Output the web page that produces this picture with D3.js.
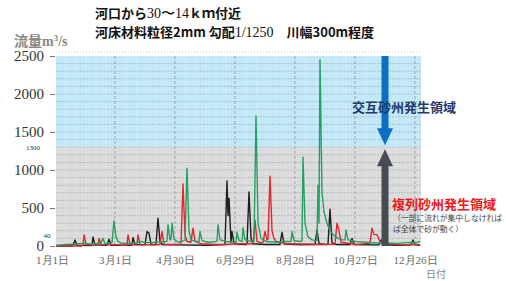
<!DOCTYPE html>
<html><head><meta charset="utf-8">
<script src="https://cdn.jsdelivr.net/npm/d3@7"></script>
<style>
html,body{margin:0;padding:0;background:#fff;}
svg{display:block;}
</style></head>
<body>
<svg id="c" width="506" height="281"></svg>
<script>
// ---- data (day of year, flow m3/s) ----
const yTicks = [0, 500, 1000, 1500, 2000, 2500];
const xTickDays = [0, 59, 119, 179, 239, 299, 359];
const xTickLabels = ["1月1日", "3月1日", "4月30日", "6月29日", "8月28日", "10月27日", "12月26日"];
const threshold = 1300;
const lowMark = 40;

const greenSeries = [[0,10],[5,15],[10,20],[15,25],[18,20],[22,30],[30,35],[35,25],[40,30],[45,40],[47,100],[49,30],[55,40],[56,45],[58,330],[60,120],[62,60],[65,40],[70,35],[80,40],[85,60],[90,45],[100,50],[110,60],[111,65],[112,280],[114,80],[115,90],[116,300],[118,90],[122,50],[128,70],[129,75],[131,1025],[133,200],[135,80],[140,60],[143,60],[144,190],[146,70],[152,50],[160,60],[161,65],[162,280],[164,80],[170,60],[180,50],[181,180],[183,70],[186,60],[187,240],[189,80],[195,60],[198,60],[200,1710],[202,300],[205,100],[210,60],[220,50],[230,60],[235,60],[236,190],[238,70],[245,60],[246,70],[247,1170],[249,300],[252,120],[256,80],[260,70],[261,80],[262,800],[263,300],[264,2450],[266,700],[268,450],[271,300],[274,200],[278,140],[282,100],[286,80],[289,80],[290,210],[292,80],[300,60],[310,50],[320,40],[330,40],[340,35],[350,45],[357,50],[360,40],[364,60]];

const redSeries = [[0,0],[25,0],[27,10],[28,145],[30,20],[40,10],[42,15],[43,100],[45,20],[60,15],[70,10],[71,15],[72,145],[74,20],[80,15],[81,20],[82,145],[84,20],[95,15],[104,20],[106,190],[108,20],[115,20],[125,25],[127,815],[129,150],[131,60],[135,50],[137,235],[139,60],[145,30],[160,20],[170,20],[180,30],[197,30],[199,340],[201,60],[205,40],[207,50],[209,190],[211,80],[212,90],[214,920],[216,200],[218,100],[220,60],[230,30],[250,25],[265,20],[279,25],[281,300],[283,200],[285,50],[300,20],[313,35],[314,40],[316,235],[318,150],[321,150],[324,60],[328,40],[340,20],[364,15]];

const blackSeries = [[0,0],[15,0],[17,10],[19,80],[21,10],[35,5],[36,10],[37,120],[39,15],[51,10],[53,90],[55,10],[75,10],[76,15],[77,110],[79,20],[89,15],[91,190],[93,170],[95,20],[100,20],[102,365],[104,60],[106,20],[120,15],[150,10],[169,20],[171,855],[172,400],[173,630],[175,50],[176,190],[178,30],[190,20],[191,30],[193,710],[195,100],[197,30],[210,20],[224,20],[226,180],[228,30],[240,20],[259,20],[261,210],[263,30],[270,20],[272,25],[274,485],[276,40],[280,20],[294,20],[296,100],[298,20],[320,15],[323,15],[325,80],[327,20],[340,10],[355,15],[357,80],[359,20],[364,10]];

const arrowDay = 329;

// ---- drawing ----
const svg = d3.select("#c");
const x = d3.scaleLinear().domain([0, 365]).range([56, 421]);
const y = d3.scaleLinear().domain([0, 2500]).range([246, 56]);
const serif = "'Liberation Serif', 'DejaVu Serif', serif";
const jp = "'Noto Sans CJK JP', sans-serif";

// background bands
svg.append("rect").attr("x", x(0)).attr("y", y(2500)).attr("width", x(365) - x(0))
  .attr("height", y(threshold) - y(2500)).attr("fill", "#c3e8f7");
svg.append("rect").attr("x", x(0)).attr("y", y(threshold)).attr("width", x(365) - x(0))
  .attr("height", y(0) - y(threshold)).attr("fill", "#dcdcdc");

// faint dotted line above plot
svg.append("line").attr("x1", x(0)).attr("x2", x(365)).attr("y1", y(2500) - 4).attr("y2", y(2500) - 4)
  .attr("stroke", "#ccc").attr("stroke-dasharray", "1,2");

// minor vertical white dotted grid
const minorDays = d3.range(10, 365, 10);
svg.append("g").selectAll("line").data(minorDays).join("line")
  .attr("x1", d => x(d)).attr("x2", d => x(d)).attr("y1", y(2500)).attr("y2", y(0))
  .attr("stroke", "#fff").attr("stroke-opacity", 0.5).attr("stroke-dasharray", "1,2");

// horizontal grid every 100
const hGrid = d3.range(100, 2500, 100);
svg.append("g").selectAll("line").data(hGrid).join("line")
  .attr("x1", x(0)).attr("x2", x(365)).attr("y1", d => y(d)).attr("y2", d => y(d))
  .attr("stroke", "#8f9aa0").attr("stroke-opacity", 0.6).attr("stroke-dasharray", "2,1").attr("stroke-width", 0.8);

// vertical dashed grid at tick days
svg.append("g").selectAll("line").data(xTickDays.slice(1)).join("line")
  .attr("x1", d => x(d)).attr("x2", d => x(d)).attr("y1", y(2500)).attr("y2", y(0))
  .attr("stroke", "#777").attr("stroke-opacity", 0.7).attr("stroke-dasharray", "3,2").attr("stroke-width", 0.8);

// y axis
const yAxis = d3.axisLeft(y).tickValues(yTicks).tickFormat(d3.format("d")).tickSize(5).tickPadding(6);
const gy = svg.append("g").attr("transform", `translate(${x(0) - 1},0)`).call(yAxis);
gy.attr("font-family", serif).attr("font-size", 15);
gy.select(".domain").remove();
gy.selectAll(".tick line").attr("stroke", "#777");
gy.selectAll(".tick text").style("font-family", serif).attr("font-size", 15).attr("fill", "#333");

// 1300 and 40 labels
svg.append("text").attr("x", 33).attr("y", y(threshold) + 3).attr("text-anchor", "middle")
  .style("font-family", serif).attr("font-size", 7).attr("fill", "#333").text(threshold);
svg.append("text").attr("x", 47).attr("y", y(lowMark) - 5).attr("text-anchor", "middle")
  .style("font-family", serif).attr("font-size", 7).attr("fill", "#333").text(lowMark);

// x axis labels
const xAxis = d3.axisBottom(x).tickValues(xTickDays).tickFormat((d, i) => xTickLabels[i]).tickSize(0).tickPadding(10);
const gx = svg.append("g").attr("transform", `translate(0,${y(0)})`).call(xAxis);
gx.attr("font-family", serif).attr("font-size", 11);
gx.select(".domain").remove();
gx.selectAll(".tick text").style("font-family", serif).attr("font-size", 11).attr("fill", "#666");
gx.selectAll(".tick").filter(d => d === 0).select("text").attr("dx", -4);

svg.append("text").attr("x", 436).attr("y", 278).attr("text-anchor", "middle")
  .attr("font-family", jp).attr("font-size", 10).attr("fill", "#888").text("日付");

// series lines
const line = d3.line().x(d => x(d[0])).y(d => y(d[1]));
const series = [
  {data: blackSeries, color: "#1e1e1e"},
  {data: redSeries, color: "#e3262e"},
  {data: greenSeries, color: "#23a062"}
];
svg.append("g").selectAll("path").data(series).join("path")
  .attr("d", d => line(d.data)).attr("fill", "none").attr("stroke", d => d.color)
  .attr("stroke-width", 1.4).attr("stroke-linejoin", "round");

// arrows
const ax = x(arrowDay);
const blueTip = y(threshold) - 2;
svg.append("rect").attr("x", ax - 3.5).attr("y", y(2500)).attr("width", 7).attr("height", blueTip - 16 - y(2500))
  .attr("fill", "#0b6fc4");
svg.append("path").attr("d", `M${ax - 8},${blueTip - 17} L${ax + 8},${blueTip - 17} L${ax},${blueTip} Z`).attr("fill", "#0b6fc4");
const greyTip = y(threshold) + 2;
svg.append("rect").attr("x", ax - 3.5).attr("y", greyTip + 16).attr("width", 7).attr("height", y(0) - greyTip - 16)
  .attr("fill", "#474c52");
svg.append("path").attr("d", `M${ax - 8},${greyTip + 17} L${ax + 8},${greyTip + 17} L${ax},${greyTip} Z`).attr("fill", "#474c52");

// annotations
svg.append("text").attr("x", 352).attr("y", 112).attr("font-family", jp).attr("font-weight", "bold")
  .attr("font-size", 13).attr("fill", "#1f3a6e").text("交互砂州発生領域");
svg.append("text").attr("x", 392).attr("y", 209).attr("font-family", jp).attr("font-weight", "bold")
  .attr("font-size", 13).attr("fill", "#f01818").text("複列砂州発生領域");
svg.append("text").attr("x", 393).attr("y", 221).attr("font-family", jp)
  .attr("font-size", 7.8).attr("fill", "#444").text("（一部に流れが集中しなければ");
svg.append("text").attr("x", 393).attr("y", 232).attr("font-family", jp)
  .attr("font-size", 7.8).attr("fill", "#444").text("ば全体で砂が動く）");

// y label
const yl = svg.append("text").attr("x", 14).attr("y", 46).attr("font-family", serif).attr("font-weight", "bold")
  .attr("font-size", 14).attr("fill", "#888");
yl.append("tspan").attr("font-family", jp).text("流量");
yl.append("tspan").text("m");
yl.append("tspan").attr("font-size", 9).attr("dy", -5).text("3");
yl.append("tspan").attr("dy", 5).text("/s");

// title
const t1 = svg.append("text").attr("x", 95).attr("y", 18).attr("font-family", jp).attr("font-weight", "bold")
  .attr("font-size", 13).attr("fill", "#111");
t1.append("tspan").text("河口から");
t1.append("tspan").attr("font-family", serif).attr("font-weight", "normal").attr("font-size", 14).text("30〜14");
t1.append("tspan").text("ｋｍ付近");
const t2 = svg.append("text").attr("x", 95).attr("y", 37).attr("font-family", jp).attr("font-weight", "bold")
  .attr("font-size", 13).attr("fill", "#111");
t2.append("tspan").text("河床材料粒径2mm 勾配");
t2.append("tspan").attr("font-family", serif).attr("font-weight", "normal").attr("font-size", 14).text("1/1250");
t2.append("tspan").text("　川幅300m程度");
</script>
</body></html>
